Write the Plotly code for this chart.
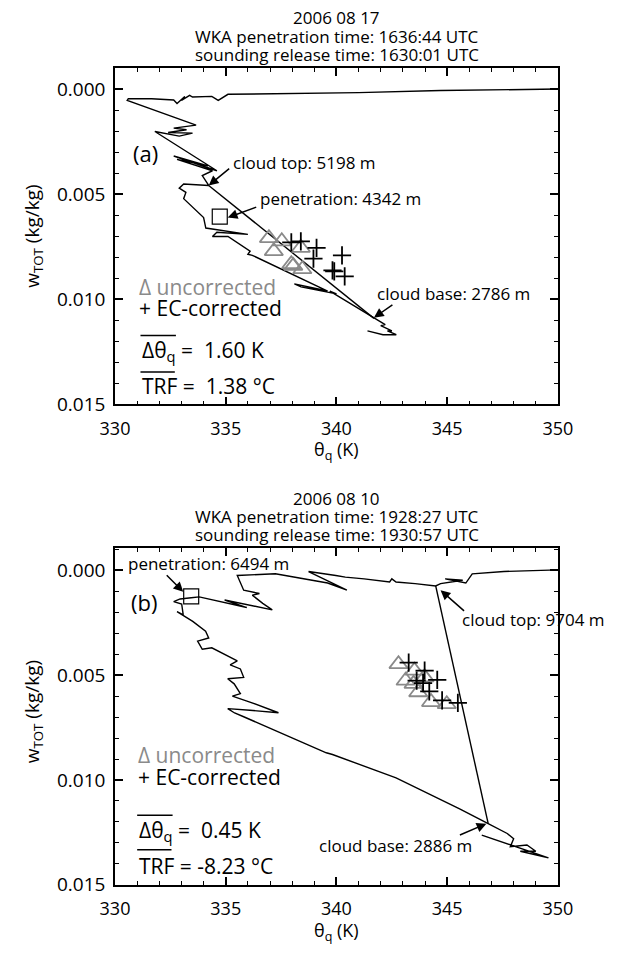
import plotly.graph_objects as go

# ---------------- data: panel (a) 2006 08 17 ----------------
theta_a = [350.0, 347.0, 344.7, 341.0, 338.4, 335.1, 334.66, 334.37, 333.5, 333.37, 333.0, 333.15,
           332.8, 332.65, 331.65, 330.6, 330.55, 333.66, 332.65, 333.23, 332.4, 333.5, 332.9, 331.8,
           334.6, 332.65, 334.2, 332.8, 334.4, 333.94, 334.23, 333.1, 332.9, 333.2, 333.1, 333.5,
           334.0, 334.1, 336.0, 334.6, 334.4, 335.1, 336.1, 336.0, 336.2, 339.6, 338.1, 338.4,
           340.0, 339.7, 341.69, 342.2, 342.0, 342.5, 342.3, 342.7, 342.1, 341.4]
w_a = [-0.00002, 0.0, 0.00005, 0.00015, 0.00017, 0.00023, 0.00052, 0.00033, 0.00036, 0.00028, 0.00052,
       0.00033, 0.00067, 0.0005, 0.00044, 0.00044, 0.00052, 0.0017, 0.00184, 0.00192, 0.00205, 0.00208,
       0.00222, 0.002, 0.00387, 0.00317, 0.00364, 0.00333, 0.00387, 0.0041, 0.00457, 0.0045, 0.0047,
       0.0049, 0.0052, 0.0056, 0.0061, 0.0066, 0.0069, 0.0068, 0.007, 0.007, 0.0077, 0.00785, 0.0079,
       0.0096, 0.00926, 0.0094, 0.00973, 0.0096, 0.0109, 0.0112, 0.01125, 0.0115, 0.0115, 0.01168,
       0.01168, 0.0115]
cloud_a_theta = [334.23, 341.69]   # cloud top -> cloud base
cloud_a_w = [0.00457, 0.0109]
unc_a_theta = [336.95, 337.53, 337.17, 338.39, 337.96, 338.05, 338.46]
unc_a_w = [0.00708, 0.00723, 0.0077, 0.00754, 0.00832, 0.0084, 0.00856]
ec_a_theta = [337.96, 338.39, 339.1, 338.96, 340.25, 339.82, 339.9, 340.37]
ec_a_w = [0.00728, 0.00723, 0.00754, 0.00806, 0.0079, 0.00862, 0.00866, 0.0089]
pen_a = (334.73, 0.00606)

# ---------------- data: panel (b) 2006 08 10 ----------------
theta_b = [350.0, 347.56, 346.13, 345.84, 344.91, 345.7, 344.7, 344.48, 343.55, 342.69, 342.5, 342.4,
           341.25, 340.4, 339.97, 338.74, 340.47, 339.6, 337.24, 335.52, 335.81, 336.52, 336.2, 336.67,
           337.1, 334.95, 335.95, 335.09, 333.8, 333.44, 332.94, 332.65, 333.01, 333.08, 332.8, 333.51,
           334.09, 334.23, 333.73, 333.94, 334.37, 335.52, 335.2, 335.66, 335.81, 335.09, 335.38,
           335.66, 335.3, 336.09, 337.38, 336.09, 335.09, 335.4, 335.81, 339.54, 339.82, 342.69,
           345.56, 346.85, 347.71, 348.0, 347.85, 348.6, 349.0, 348.3, 349.57, 346.56]
w_b = [-0.00003, 0.00005, 0.00016, 0.0006, 0.0004, 0.00047, 0.00063, 0.00074, 0.00063, 0.00055, 0.0004,
       0.00055, 0.0004, 0.00032, 0.00024, 0.00005, 0.00094, 0.0006, 0.00016, 0.00024, 0.00094, 0.0011,
       0.00118, 0.00157, 0.00188, 0.00141, 0.00177, 0.00157, 0.00126, 0.0013, 0.00136, 0.00149, 0.0016,
       0.00212, 0.00196, 0.00243, 0.0029, 0.00322, 0.00337, 0.00376, 0.00369, 0.00431, 0.0045, 0.0047,
       0.0051, 0.00517, 0.00541, 0.00588, 0.006, 0.00628, 0.00679, 0.00667, 0.00659, 0.0068, 0.00698,
       0.0087, 0.00878, 0.0099, 0.01137, 0.01208, 0.01255, 0.0128, 0.01318, 0.0131, 0.0134, 0.0134,
       0.01371, 0.01263]
cloud_b_theta = [344.48, 346.85]
cloud_b_w = [0.00074, 0.01208]
unc_b_theta = [342.8, 343.52, 343.12, 343.48, 343.98, 343.69, 344.27, 344.98]
unc_b_w = [0.00447, 0.00478, 0.00526, 0.00541, 0.0051, 0.00581, 0.00628, 0.00638]
ec_b_theta = [343.26, 343.98, 343.62, 343.91, 344.55, 344.19, 344.77, 345.48]
ec_b_w = [0.0044, 0.00478, 0.00526, 0.00538, 0.00522, 0.00577, 0.0062, 0.00632]
pen_b = (333.44, 0.00124)

x_ticks = [330, 335, 340, 345, 350]
y_ticks = [0.000, 0.005, 0.010, 0.015]

FONT = "Open Sans"
GRAY = "#8a8a8a"
NB = "\u00a0"

fig = go.Figure()

def add_panel(xa, ya, th, w, cth, cw, uth, uw, eth, ew, pen):
    fig.add_trace(go.Scatter(x=th, y=w, mode="lines", line=dict(color="black", width=1.4),
                             xaxis=xa, yaxis=ya, showlegend=False, hoverinfo="skip"))
    fig.add_trace(go.Scatter(x=cth, y=cw, mode="lines", line=dict(color="black", width=1.4),
                             xaxis=xa, yaxis=ya, showlegend=False, hoverinfo="skip"))
    fig.add_trace(go.Scatter(x=uth, y=uw, mode="markers",
                             marker=dict(symbol="triangle-up-open", size=16, color=GRAY,
                                         line=dict(width=1.8, color=GRAY)),
                             xaxis=xa, yaxis=ya, showlegend=False))
    fig.add_trace(go.Scatter(x=eth, y=ew, mode="markers",
                             marker=dict(symbol="cross-thin-open", size=13, color="black",
                                         line=dict(width=1.8, color="black")),
                             xaxis=xa, yaxis=ya, showlegend=False))
    fig.add_trace(go.Scatter(x=[pen[0]], y=[pen[1]], mode="markers",
                             marker=dict(symbol="square-open", size=15, color="black",
                                         line=dict(width=1.2, color="black")),
                             xaxis=xa, yaxis=ya, showlegend=False))

add_panel("x", "y", theta_a, w_a, cloud_a_theta, cloud_a_w, unc_a_theta, unc_a_w,
          ec_a_theta, ec_a_w, pen_a)
add_panel("x2", "y2", theta_b, w_b, cloud_b_theta, cloud_b_w, unc_b_theta, unc_b_w,
          ec_b_theta, ec_b_w, pen_b)

W, H = 632, 958
xdom = [105 / W, 570 / W]

def xaxis(anchor):
    return dict(domain=xdom, range=[330, 350], anchor=anchor, tickvals=x_ticks,
                ticks="inside", ticklen=8, tickwidth=1.5, tickcolor="black",
                mirror="allticks", showline=True, linecolor="black", linewidth=1.5,
                showgrid=False, zeroline=False, ticklabelstandoff=7,
                tickfont=dict(family=FONT, size=18, color="black"),
                minor=dict(dtick=1, ticks="inside", ticklen=4, tickwidth=1.2, tickcolor="black"))

def yaxis(anchor, dom, rng):
    return dict(domain=dom, range=rng, anchor=anchor, tickvals=y_ticks, tickformat=".3f",
                ticks="inside", ticklen=8, tickwidth=1.5, tickcolor="black",
                mirror="allticks", showline=True, linecolor="black", linewidth=1.5,
                showgrid=False, zeroline=False, ticklabelstandoff=4,
                tickfont=dict(family=FONT, size=19, color="black"),
                minor=dict(dtick=0.001, ticks="inside", ticklen=4, tickwidth=1.2, tickcolor="black"))

fig.update_layout(
    width=W, height=H, margin=dict(l=0, r=0, t=0, b=0),
    paper_bgcolor="white", plot_bgcolor="white",
    font=dict(family=FONT, size=17, color="black"),
    xaxis=xaxis("y"), yaxis=yaxis("x", [1 - 410 / H, 1 - 69 / H], [0.015, -0.00102]),
    xaxis2=xaxis("y2"), yaxis2=yaxis("x2", [1 - 897 / H, 1 - 556 / H], [0.015, -0.00105]),
)

ann = []
def ptext(txt, px, py, size=17, angle=0):
    ann.append(dict(text=txt, x=px / W, y=1 - py / H, xref="paper", yref="paper",
                    showarrow=False, xanchor="center", yanchor="middle", textangle=angle,
                    font=dict(family=FONT, size=size, color="black")))

def dtext(txt, x, y, xr, yr, size=17, color="black", xanchor="left"):
    ann.append(dict(text=txt, x=x, y=y, xref=xr, yref=yr, showarrow=False,
                    xanchor=xanchor, yanchor="middle", font=dict(family=FONT, size=size, color=color)))

def arrow(x, y, xr, yr, ax, ay):
    ann.append(dict(text="", x=x, y=y, xref=xr, yref=yr, ax=ax, ay=ay, showarrow=True,
                    arrowhead=2, arrowsize=1.3, arrowwidth=1.5, arrowcolor="black", standoff=0))

# titles
for i, t in enumerate(["2006 08 17", "WKA penetration time: 1636:44 UTC",
                       "sounding release time: 1630:01 UTC"]):
    ptext(t, 338, 18 + 18.5 * i)
for i, t in enumerate(["2006 08 10", "WKA penetration time: 1928:27 UTC",
                       "sounding release time: 1930:57 UTC"]):
    ptext(t, 338, 505 + 18.5 * i)
ptext("w<sub>TOT</sub> (kg/kg)", 19, 240, size=19, angle=-90)
ptext("w<sub>TOT</sub> (kg/kg)", 19, 722, size=19, angle=-90)
ptext("θ<sub>q</sub> (K)", 338, 457, size=18)
ptext("θ<sub>q</sub> (K)", 338, 944, size=18)

# panel a annotations
dtext("(a)", 331.36, 0.00301, "x", "y", size=22, xanchor="center")
dtext("cloud top: 5198 m", 335.23, 0.00348, "x", "y")
arrow(334.23, 0.00457, "x", "y", 22, -18)
dtext("penetration: 4342 m", 336.45, 0.0052, "x", "y")
arrow(335.09, 0.0061, "x", "y", 30, -11)
dtext("cloud base: 2786 m", 341.75, 0.00973, "x", "y")
arrow(341.69, 0.01087, "x", "y", 20, -14)
dtext("Δ uncorrected", 331.0, 0.00942, "x", "y", size=21, color=GRAY)
dtext("+ EC-corrected", 331.0, 0.01043, "x", "y", size=21)
dtext("Δθ<sub>q</sub> =" + NB + NB + "1.60 K", 331.15, 0.01246, "x", "y", size=21)
dtext("TRF =" + NB + NB + "1.38 °C", 331.15, 0.0141, "x", "y", size=21)

# panel b annotations
dtext("(b)", 331.33, 0.00149, "x2", "y2", size=22, xanchor="center")
dtext("penetration: 6494 m", 330.5, -0.00031, "x2", "y2")
arrow(333.08, 0.00102, "x2", "y2", -18, -18)
dtext("cloud top: 9704 m", 345.56, 0.00235, "x2", "y2")
arrow(344.7, 0.00094, "x2", "y2", 25, 22)
dtext("cloud base: 2886 m", 339.1, 0.0131, "x2", "y2")
arrow(346.77, 0.01208, "x2", "y2", -28, 12)
dtext("Δ uncorrected", 330.93, 0.00882, "x2", "y2", size=21, color=GRAY)
dtext("+ EC-corrected", 330.93, 0.00984, "x2", "y2", size=21)
dtext("Δθ<sub>q</sub> =" + NB + NB + "0.45 K", 331.0, 0.01243, "x2", "y2", size=21)
dtext("TRF = -8.23 °C", 331.0, 0.01408, "x2", "y2", size=21)

fig.update_layout(annotations=ann)

# overlines
shapes = []
for (x0, x1, y, xr, yr) in [(331.15, 332.75, 0.01172, "x", "y"), (331.15, 332.7, 0.01345, "x", "y"),
                            (331.0, 332.6, 0.01168, "x2", "y2"), (331.0, 332.55, 0.01333, "x2", "y2")]:
    shapes.append(dict(type="line", x0=x0, x1=x1, y0=y, y1=y, xref=xr, yref=yr,
                       line=dict(color="black", width=1.5)))
fig.update_layout(shapes=shapes)

fig.write_html("out.html")
